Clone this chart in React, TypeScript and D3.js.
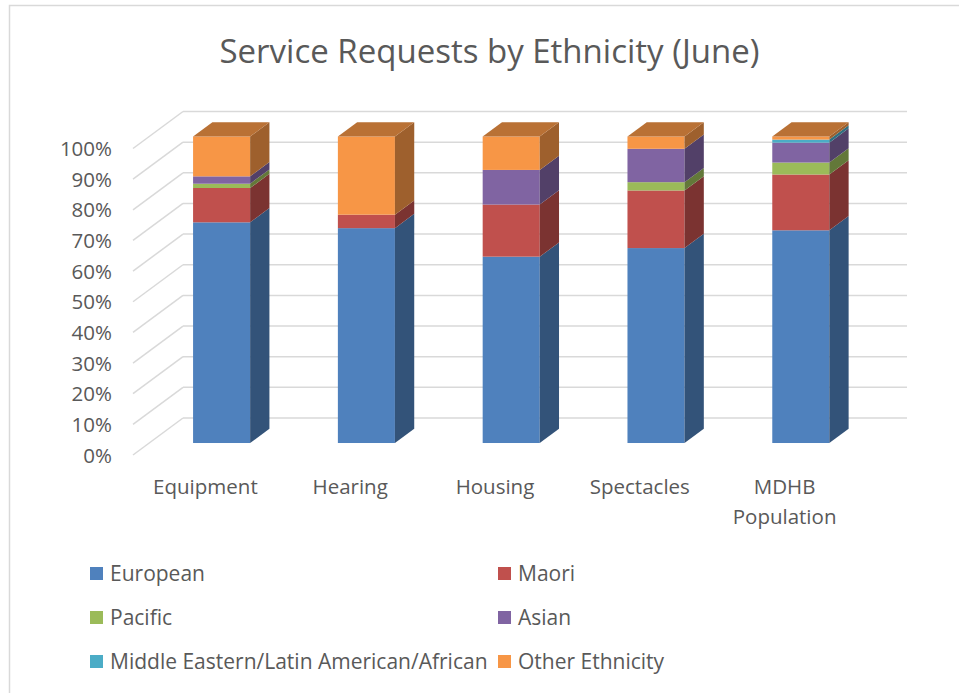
import React from 'react';
import * as d3 from 'd3';

const categories = ['Equipment', 'Hearing', 'Housing', 'Spectacles', 'MDHB Population'];
const seriesNames = ['European', 'Maori', 'Pacific', 'Asian', 'Middle Eastern/Latin American/African', 'Other Ethnicity'];
const european = [72.0, 70.1, 60.8, 63.6, 69.4];
const maori = [11.2, 4.4, 17.0, 18.8, 18.2];
const pacific = [1.4, 0, 0, 2.7, 3.9];
const asian = [2.4, 0, 11.3, 10.9, 6.5];
const melaa = [0, 0, 0, 0, 1.0];
const other = [13.0, 25.5, 10.9, 4.0, 1.0];
const yTicks = [0, 10, 20, 30, 40, 50, 60, 70, 80, 90, 100];
const colors = ['#4F81BD', '#C0504D', '#9BBB59', '#8064A2', '#4BACC6', '#F79646'];

const seriesValues = [european, maori, pacific, asian, melaa, other];

const FONT = "'Open Sans', 'Noto Sans', sans-serif";
const TEXT = '#595959';
const GRID = '#d9d9d9';

export default function App() {
  const DX = 50;
  const DY = 37;
  const x = d3.scaleBand<string>().domain(categories).range([133, 857]);
  const y = d3.scaleLinear().domain([0, 100]).range([455, 148.5]);

  const rows = categories.map((c, i) => {
    const r: any = { cat: c };
    seriesNames.forEach((s, k) => (r[s] = seriesValues[k][i]));
    return r;
  });
  const stacked = d3.stack<any>().keys(seriesNames)(rows);

  const t0 = 0.324;
  const t1 = 0.71;
  const bw = x.bandwidth() * 0.394;
  const inset = (x.bandwidth() - bw) / 2;
  const dx = DX * (t1 - t0);
  const dy = DY * (t1 - t0);
  const Y = (v: number) => y(v) - DY * t0;

  const shade = (c: string, k: number) => {
    const col = d3.rgb(c);
    return d3.rgb(col.r * k, col.g * k, col.b * k).formatHex();
  };

  const bars: React.ReactNode[] = [];
  categories.forEach((c, i) => {
    const X0 = (x(c) as number) + inset + DX * t0;
    const X1 = X0 + bw;
    let topV = 0;
    stacked.forEach((layer) => {
      if (layer[i][1] - layer[i][0] > 0) topV = Math.max(topV, layer[i][1]);
    });
    stacked.forEach((layer, k) => {
      const v0 = layer[i][0];
      const v1 = layer[i][1];
      if (v1 - v0 <= 0) return;
      const col = colors[k];
      bars.push(
        <rect key={`f${i}-${k}`} x={X0} y={Y(v1)} width={bw} height={Y(v0) - Y(v1)} fill={col} />
      );
      const side = [
        [X1, Y(v0)],
        [X1, Y(v1)],
        [X1 + dx, Y(v1) - dy],
        [X1 + dx, Y(v0) - dy],
      ];
      bars.push(
        <polygon key={`s${i}-${k}`} points={side.map((p) => p.join(',')).join(' ')} fill={shade(col, 0.64)} />
      );
      if (v1 === topV) {
        const top = [
          [X0, Y(v1)],
          [X1, Y(v1)],
          [X1 + dx, Y(v1) - dy],
          [X0 + dx, Y(v1) - dy],
        ];
        bars.push(
          <polygon key={`t${i}-${k}`} points={top.map((p) => p.join(',')).join(' ')} fill={shade(col, 0.75)} />
        );
      }
    });
  });

  const legendPos = [
    [90, 573], [498, 573],
    [90, 617], [498, 617],
    [90, 661], [498, 661],
  ];

  return (
    <svg width={959} height={693} style={{ position: 'absolute', left: 0, top: 0, background: '#fff' }} fontFamily={FONT}>
      <rect x={9.5} y={5.5} width={1000} height={800} fill="#fff" stroke={GRID} strokeWidth={1.5} />
      <text x={489.5} y={63} textAnchor="middle" fontSize={33} fill={TEXT}>
        Service Requests by Ethnicity (June)
      </text>
      {yTicks.map((v) => (
        <g key={`g${v}`}>
          <line x1={133} y1={y(v)} x2={133 + DX} y2={y(v) - DY} stroke={GRID} strokeWidth={1.5} />
          <line x1={133 + DX} y1={y(v) - DY} x2={857 + DX} y2={y(v) - DY} stroke={GRID} strokeWidth={1.5} />
          <text x={112} y={y(v) + 7.5} textAnchor="end" fontSize={20.5} fill={TEXT}>
            {v}%
          </text>
        </g>
      ))}
      {bars}
      {categories.map((c) => {
        const cx = (x(c) as number) + x.bandwidth() / 2;
        const words = c === 'MDHB Population' ? ['MDHB', 'Population'] : [c];
        return (
          <text key={c} x={cx} y={494} textAnchor="middle" fontSize={20.5} fill={TEXT}>
            {words.map((w, j) => (
              <tspan key={w} x={cx} dy={j === 0 ? 0 : 30}>
                {w}
              </tspan>
            ))}
          </text>
        );
      })}
      {seriesNames.map((s, k) => (
        <g key={s}>
          <rect x={legendPos[k][0]} y={legendPos[k][1] - 6} width={13} height={13} fill={colors[k]} />
          <text x={legendPos[k][0] + 20} y={legendPos[k][1] + 7.5} fontSize={21} fill={TEXT}>
            {s}
          </text>
        </g>
      ))}
    </svg>
  );
}
